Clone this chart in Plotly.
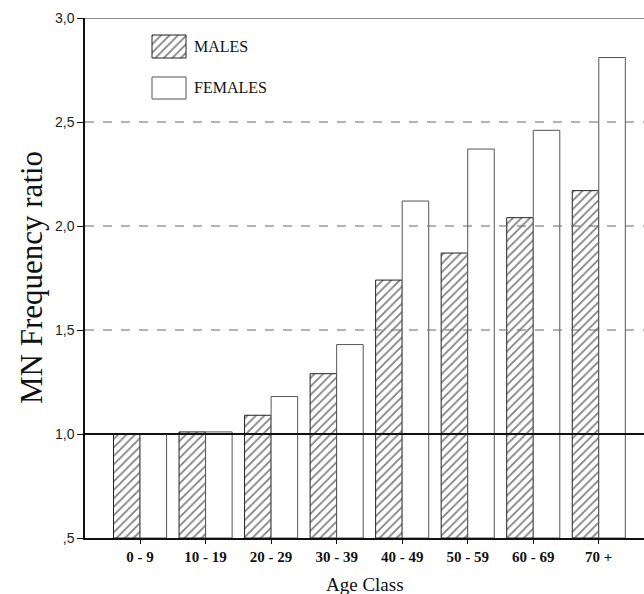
import plotly.graph_objects as go

categories = ["0 - 9", "10 - 19", "20 - 29", "30 - 39", "40 - 49", "50 - 59", "60 - 69", "70 +"]
males = [1.00, 1.01, 1.09, 1.29, 1.74, 1.87, 2.04, 2.17]
females = [1.00, 1.01, 1.18, 1.43, 2.12, 2.37, 2.46, 2.81]
y_tickvals = [0.5, 1.0, 1.5, 2.0, 2.5, 3.0]
y_ticktext = [",5", "1,0", "1,5", "2,0", "2,5", "3,0"]
grid_vals = [1.5, 2.0, 2.5]
legend_names = ["MALES", "FEMALES"]

W, H = 644, 594
L, R, T, B = 85, 0, 18, 56
PW, PH = W - L - R, H - T - B

SERIF = "Liberation Serif, Times New Roman, serif"
SANS = "Liberation Sans, Arial, sans-serif"

HATCH = dict(shape="/", fgcolor="#000", bgcolor="white", size=6, solidity=0.28)

fig = go.Figure()
xidx = list(range(len(categories)))
fig.add_trace(go.Bar(
    x=xidx, y=[v - 0.5 for v in males], base=0.5, name=legend_names[0],
    marker=dict(color="white", line=dict(color="#222", width=1), pattern=HATCH),
    showlegend=False))
fig.add_trace(go.Bar(
    x=xidx, y=[v - 0.5 for v in females], base=0.5, name=legend_names[1],
    marker=dict(color="white", line=dict(color="#555", width=1)),
    showlegend=False))

# custom legend on a pixel-coordinate overlay axis
sw = [(152, 186, 35, 58), (152, 186, 77, 99)]
for i, (x0, x1, y0, y1) in enumerate(sw):
    fig.add_trace(go.Scatter(
        x=[x0, x1, x1, x0, x0], y=[y0, y0, y1, y1, y0], mode="lines",
        fill="toself", fillcolor="white",
        fillpattern=HATCH if i == 0 else None,
        line=dict(color="#222" if i == 0 else "#555", width=1),
        xaxis="x2", yaxis="y2", showlegend=False, hoverinfo="skip"))


def px(x):
    return (x - L) / PW


def py(y):
    return (H - B - y) / PH


for i, (x0, x1, y0, y1) in enumerate(sw):
    fig.add_annotation(x=px(192), y=py((y0 + y1) / 2), xref="paper", yref="paper", text=legend_names[i],
                       showarrow=False, xanchor="left", yanchor="middle",
                       font=dict(family=SERIF, size=16, color="#111"))

fig.update_layout(
    width=W, height=H, margin=dict(l=L, r=R, t=T, b=B),
    paper_bgcolor="white", plot_bgcolor="white",
    barmode="group", bargap=0.19, bargroupgap=0,
    xaxis=dict(range=[-0.84, 7.69], tickvals=xidx, ticktext=[f"<b>{c}</b>" for c in categories],
               showline=True, linecolor="#111", linewidth=1.5, ticks="outside", ticklen=4,
               tickcolor="#111", showgrid=False, zeroline=False,
               tickfont=dict(family=SERIF, size=15, color="#111")),
    yaxis=dict(range=[0.5, 3.0], tickvals=y_tickvals, ticktext=y_ticktext,
               showline=True, linecolor="#111", linewidth=1.5, ticks="outside", ticklen=6,
               tickcolor="#111", showgrid=False, zeroline=False,
               tickfont=dict(family=SANS, size=14, color="#222")),
    xaxis2=dict(range=[L, W - R], domain=[0, 1], anchor="y2", overlaying="x", visible=False, fixedrange=True),
    yaxis2=dict(range=[H - B, T], domain=[0, 1], anchor="x2", overlaying="y", visible=False, fixedrange=True),
    showlegend=False,
)

# gridlines (dashed) drawn over bars
for g in grid_vals:
    fig.add_shape(type="line", xref="paper", yref="y", x0=0, x1=1, y0=g, y1=g,
                  line=dict(color="#666", width=1.2, dash="dash"), layer="above")
fig.add_shape(type="line", xref="paper", yref="y", x0=0, x1=1, y0=1.0, y1=1.0,
              line=dict(color="#111", width=2), layer="above")
fig.add_shape(type="line", xref="paper", yref="y", x0=0, x1=1, y0=3.0, y1=3.0,
              line=dict(color="#222", width=1.2), layer="above")

fig.add_annotation(x=px(31), y=py(278), xref="paper", yref="paper", text="MN Frequency ratio", textangle=-90,
                   showarrow=False, xanchor="center", yanchor="middle",
                   font=dict(family=SERIF, size=31, color="#111"))
fig.add_annotation(x=px(365), y=py(584), xref="paper", yref="paper", text="Age Class",
                   showarrow=False, xanchor="center", yanchor="middle",
                   font=dict(family=SERIF, size=19, color="#111"))

fig.write_html("out.html", config={"displayModeBar": False},
               post_script="document.body.style.margin='0';document.body.style.overflow='hidden';")
